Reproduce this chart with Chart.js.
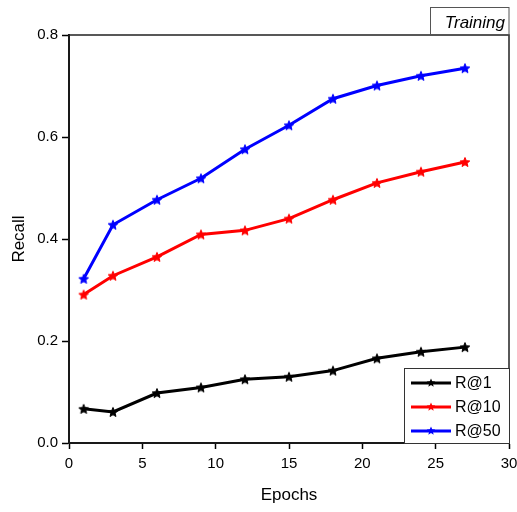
<!DOCTYPE html>
<html lang="en">
<head>
<meta charset="UTF-8">
<title>Training Recall</title>
<style>
    body { margin: 0; background: #fff; }
    #wrap { width: 517px; height: 512px; }
</style>
</head>
<body>
<div id="wrap"><canvas id="recallChart" width="517" height="512"></canvas></div>
<script src="https://cdn.jsdelivr.net/npm/chart.js"></script>
<script>
const epochs = [1, 3, 6, 9, 12, 15, 18, 21, 24, 27];
const r1 = [0.067, 0.061, 0.098, 0.109, 0.125, 0.130, 0.142, 0.166, 0.179, 0.188];
const r10 = [0.291, 0.328, 0.365, 0.409, 0.417, 0.440, 0.477, 0.510, 0.532, 0.551];
const r50 = [0.322, 0.428, 0.477, 0.519, 0.576, 0.623, 0.675, 0.701, 0.720, 0.735];
const seriesNames = ['R@1', 'R@10', 'R@50'];
const seriesColors = ['#000000', '#ff0000', '#0000ff'];
const xTicks = [0, 5, 10, 15, 20, 25, 30];
const yTicks = [0.0, 0.2, 0.4, 0.6, 0.8];

const FONT = '"Liberation Sans", Arial, sans-serif';

// small filled five point star, used as the point marker
function starPath(ctx, cx, cy, r) {
    ctx.beginPath();
    for (let k = 0; k < 10; k++) {
        const rad = k % 2 === 0 ? r : r * 0.45;
        const a = -Math.PI / 2 + k * Math.PI / 5;
        const px = cx + Math.cos(a) * rad, py = cy + Math.sin(a) * rad;
        if (k === 0) ctx.moveTo(px, py); else ctx.lineTo(px, py);
    }
    ctx.closePath();
}

function starImage(color) {
    const c = document.createElement('canvas');
    c.width = 12;
    c.height = 12;
    const g = c.getContext('2d');
    g.fillStyle = color;
    g.strokeStyle = color;
    g.lineWidth = 1;
    starPath(g, 6, 6.5, 5);
    g.fill();
    g.stroke();
    return c;
}

function makeSet(name, values, color) {
    return {
        label: name,
        data: epochs.map((e, i) => ({ x: e, y: values[i] })),
        borderColor: color,
        backgroundColor: color,
        borderWidth: 3,
        pointStyle: starImage(color),
        tension: 0
    };
}

const framePlugin = {
    id: 'frame',
    afterDraw(chart) {
        const { ctx, chartArea: a } = chart;
        ctx.save();
        // box round the plot
        ctx.strokeStyle = '#222';
        ctx.lineWidth = 1.5;
        ctx.strokeRect(a.left, a.top, a.right - a.left, a.bottom - a.top);

        // "Training" tag above the top right corner
        ctx.lineWidth = 1;
        ctx.strokeStyle = '#555';
        ctx.strokeRect(430.5, 7.5, a.right - 430.5, a.top - 7.5);
        ctx.fillStyle = '#000';
        ctx.font = 'italic 17px ' + FONT;
        ctx.textAlign = 'right';
        ctx.textBaseline = 'middle';
        ctx.fillText('Training', 505, 23);

        // legend box in the lower right corner
        const lx = 404, ly = 368, lw = a.right - 404, lh = a.bottom - 368;
        ctx.fillStyle = '#fff';
        ctx.fillRect(lx, ly, lw, lh);
        ctx.strokeStyle = '#333';
        ctx.strokeRect(lx + 0.5, ly + 0.5, lw, lh);
        ctx.font = '16px ' + FONT;
        ctx.textAlign = 'left';
        chart.data.datasets.forEach((ds, i) => {
            const y = 383 + i * 24;
            ctx.strokeStyle = ds.borderColor;
            ctx.lineWidth = 3;
            ctx.beginPath();
            ctx.moveTo(411, y);
            ctx.lineTo(451, y);
            ctx.stroke();
            ctx.fillStyle = ds.borderColor;
            starPath(ctx, 431, y, 4.5);
            ctx.fill();
            ctx.fillStyle = '#000';
            ctx.fillText(ds.label, 455, y + 1);
        });
        ctx.restore();
    }
};

new Chart(document.getElementById('recallChart').getContext('2d'), {
    type: 'line',
    data: {
        datasets: [
            makeSet(seriesNames[0], r1, seriesColors[0]),
            makeSet(seriesNames[1], r10, seriesColors[1]),
            makeSet(seriesNames[2], r50, seriesColors[2])
        ]
    },
    options: {
        responsive: false,
        animation: false,
        layout: { padding: { top: 35, right: 8, left: 0, bottom: 0 } },
        plugins: {
            legend: { display: false },
            tooltip: { enabled: false }
        },
        scales: {
            x: {
                type: 'linear',
                min: 0,
                max: 30,
                afterFit(scale) { scale.height = 69; scale.paddingRight = 0; scale.paddingLeft = 0; },
                afterBuildTicks(scale) { scale.ticks = xTicks.map(v => ({ value: v })); },
                grid: { drawOnChartArea: false, drawTicks: true, tickLength: 6, color: '#000', tickWidth: 1.5 },
                border: { color: '#000', width: 2 },
                ticks: { color: '#000', padding: 6, font: { family: FONT, size: 15 } },
                title: { display: true, text: 'Epochs', color: '#000', padding: { top: 0, bottom: 6 }, font: { family: FONT, size: 17 } }
            },
            y: {
                type: 'linear',
                min: 0,
                max: 0.8,
                afterFit(scale) { scale.width = 69; scale.paddingTop = 0; scale.paddingBottom = 0; },
                afterBuildTicks(scale) { scale.ticks = yTicks.map(v => ({ value: v })); },
                grid: { drawOnChartArea: false, drawTicks: true, tickLength: 7, color: '#000', tickWidth: 1.5 },
                border: { color: '#000', width: 2 },
                ticks: { color: '#000', padding: 4, font: { family: FONT, size: 15 }, callback: v => v.toFixed(1) },
                title: { display: true, text: 'Recall', color: '#000', padding: { top: 9, bottom: 0 }, font: { family: FONT, size: 17 } }
            }
        }
    },
    plugins: [framePlugin]
});
</script>
</body>
</html>
